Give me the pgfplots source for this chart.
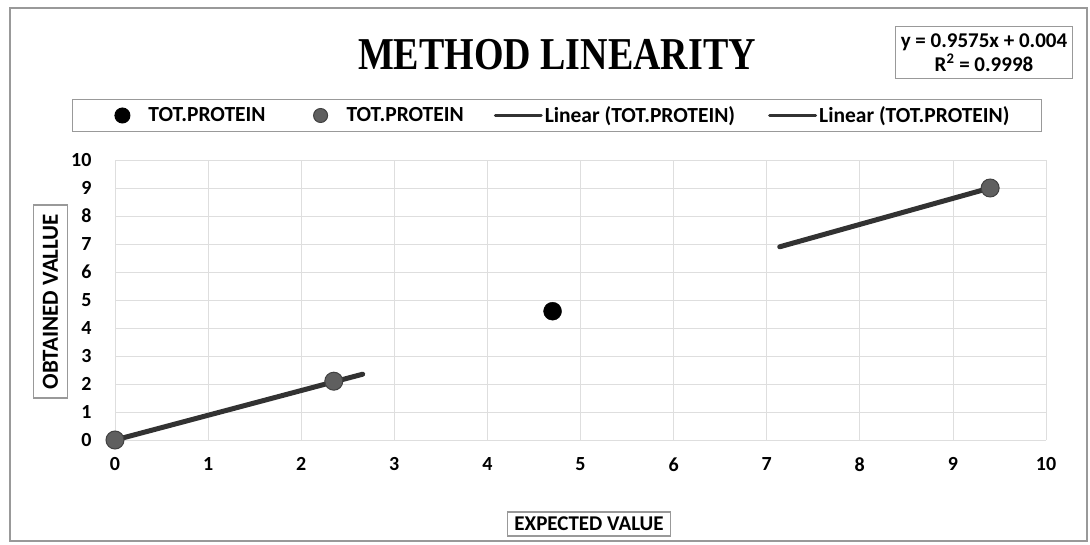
\documentclass[border=0pt]{standalone}
\usepackage{pgfplots}
\pgfplotsset{compat=1.18}
\usepackage{fontspec}
\setmainfont{Carlito}
\newfontfamily\titlefont{Liberation Serif}
\definecolor{gridc}{RGB}{222,222,222}
\definecolor{ptgray}{RGB}{95,95,95}
\definecolor{ptedge}{RGB}{65,65,65}
\definecolor{trend}{RGB}{50,50,50}
\begin{document}
\begin{tikzpicture}[x=1pt,y=1pt]
\useasboundingbox (0,0) rectangle (1090,544);
\draw[gray!80,line width=1.2pt] (10,3) rectangle (1087,536);
\begin{axis}[
  at={(115pt,104pt)}, anchor=south west,
  scale only axis, width=931pt, height=280pt,
  xmin=0, xmax=10, ymin=0, ymax=10,
  xtick={0,...,10}, ytick={0,...,10},
  grid=major, grid style={gridc, line width=0.8pt},
  axis line style={draw=none},
  major tick length=0pt,
  /pgf/number format/assume math mode=true,
  tick label style={font=\bfseries\fontsize{20}{24}\selectfont},
  xticklabel style={yshift=-14pt},
  yticklabel style={xshift=-20pt},
  clip=false,
  legend style={at={(557pt-115pt,428.5pt-104pt)}, anchor=center, draw=gray!80, line width=1pt,
    legend columns=4, font=\bfseries\fontsize{21.5}{25}\selectfont,
    inner xsep=30pt, inner ysep=5pt,
    /tikz/every odd column/.append style={column sep=0pt},
    /tikz/column 2/.append style={column sep=45pt},
    /tikz/column 4/.append style={column sep=28pt},
    /tikz/column 6/.append style={column sep=31pt}},
  legend cell align=left,
]
\addplot[only marks, mark=*, mark size=9pt, black, mark options={fill=black},
  legend image code/.code={\path[draw=none,fill=none] (-20pt,0) rectangle (24pt,0.1pt);\fill[black] (0,0) circle (7.5pt);}] coordinates {(4.7,4.6)};
\addlegendentry{TOT.PROTEIN}
\addplot[only marks, mark=*, mark size=9pt, draw=ptedge, fill=ptgray, line width=1pt,
  legend image code/.code={\path[draw=none,fill=none] (-8pt,0) rectangle (24pt,0.1pt);\filldraw[draw=ptedge,fill=ptgray,line width=1pt] (0,0) circle (7pt);}] coordinates {(0,0) (2.35,2.1) (9.4,9.0)};
\addlegendentry{TOT.PROTEIN}
\addplot[trend, line width=5pt, line cap=round,
  legend image code/.code={\draw[trend,line width=3pt] (0,0) -- (46pt,0);}] coordinates {(0,0) (2.66,2.35)};
\addlegendentry{Linear (TOT.PROTEIN)}
\addplot[trend, line width=5pt, line cap=round,
  legend image code/.code={\draw[trend,line width=3pt] (0,0) -- (46pt,0);}] coordinates {(7.14,6.9) (9.4,9.0)};
\addlegendentry{Linear (TOT.PROTEIN)}
\end{axis}
\node[font=\titlefont\bfseries\fontsize{38}{42}\selectfont] at (557,489) {\scalebox{1}[1.2]{METHOD LINEARITY}};
\node[draw=gray!80, line width=1.2pt, align=center, inner xsep=5pt, inner ysep=7pt,
  font=\bfseries\fontsize{21}{24}\selectfont] at (984,491.5) {y = 0.9575x + 0.004\\R\textsuperscript{2} = 0.9998};
\node[draw=gray!80, line width=1.2pt, rotate=90, inner xsep=9pt, inner ysep=9pt,
  font=\bfseries\fontsize{23}{26}\selectfont] at (50.5,242.5) {OBTAINED VALLUE};
\node[draw=gray!80, line width=1.2pt, inner xsep=7pt, inner ysep=5pt,
  font=\bfseries\fontsize{21}{24}\selectfont] at (589,20) {EXPECTED VALUE};
\end{tikzpicture}
\end{document}
